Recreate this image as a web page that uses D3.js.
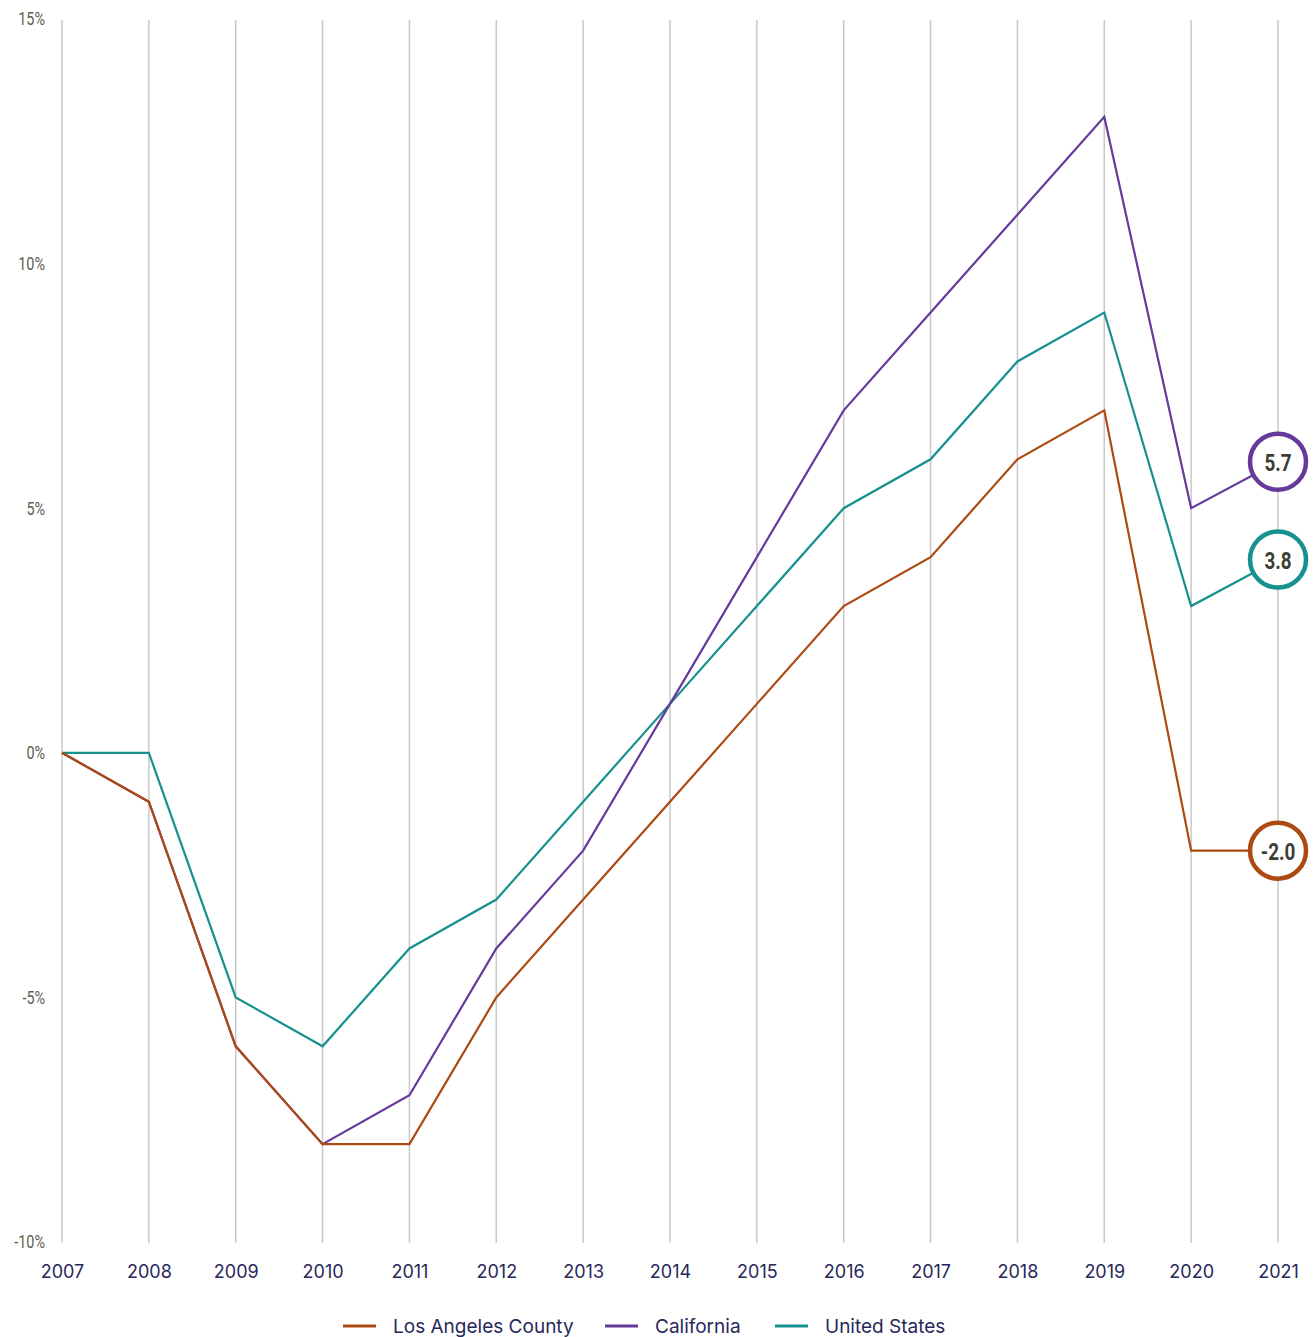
<!DOCTYPE html>
<html><head><meta charset="utf-8">
<script src="https://cdn.jsdelivr.net/npm/d3@7"></script>
<style>body{margin:0;background:#fff}svg{display:block}</style>
</head><body><svg id="c" width="1315" height="1337"></svg>
<script>
const years = [2007,2008,2009,2010,2011,2012,2013,2014,2015,2016,2017,2018,2019,2020,2021];
const laCounty = [0,-1,-6,-8,-8,-5,-3,-1,1,3,4,6,7,-2,-2];
const california = [0,-1,-6,-8,-7,-4,-2,1,4,7,9,11,13,5,5.95];
const unitedStates = [0,0,-5,-6,-4,-3,-1,1,3,5,6,8,9,3,3.95];
const endLabels = ["-2.0","5.7","3.8"];
const seriesNames = ["Los Angeles County","California","United States"];
const seriesColors = ["#ad4a12","#653a9b","#17918f"];
const yTicks = [-10,-5,0,5,10,15];

const svg = d3.select("#c");
const x = d3.scalePoint().domain(years).range([62,1278]);
const y = d3.scaleLinear().domain([-10,15]).range([1242,19]);

// vertical gridlines
svg.append("g").selectAll("line").data(years).join("line")
  .attr("x1",d=>x(d)).attr("x2",d=>x(d)).attr("y1",y(15)+1).attr("y2",y(-10)+1)
  .attr("stroke","#c9c9c9").attr("stroke-width",1.5);

// y labels (condensed)
svg.append("g").selectAll("text").data(yTicks).join("text")
  .attr("transform",d=>`translate(45,${y(d)}) scale(0.8,1)`)
  .attr("dy","0.35em").attr("text-anchor","end")
  .attr("font-family","Roboto,sans-serif").attr("font-weight",400).attr("font-size",18)
  .attr("fill","#5f604f").text(d=>d+"%");

// x labels
const xAxis = d3.axisBottom(x).tickSize(0).tickPadding(0);
const gx = svg.append("g").attr("transform","translate(0,1265)").call(xAxis);
gx.select(".domain").remove();
gx.selectAll("text").attr("font-family","Inter,'Noto Sans',sans-serif").attr("font-size",18)
  .attr("fill","#27285a").attr("dy","0.72em");

const data = [laCounty, california, unitedStates];
const line = d3.line().x((d,i)=>x(years[i])).y(d=>y(d));
const order = [2,1,0];
order.forEach(k=>{
  svg.append("path").datum(data[k]).attr("d",line).attr("fill","none")
    .attr("stroke",seriesColors[k]).attr("stroke-width",2.2).attr("stroke-linejoin","miter");
});

// end circles
data.forEach((s,k)=>{
  const cx = x(years[years.length-1]), cy = y(s[s.length-1]);
  svg.append("circle").attr("cx",cx).attr("cy",cy).attr("r",28)
    .attr("fill","#fff").attr("stroke",seriesColors[k]).attr("stroke-width",4.5);
  svg.append("text").attr("transform",`translate(${cx},${cy+1}) scale(0.82,1)`)
    .attr("dy","0.35em").attr("text-anchor","middle")
    .attr("font-family","Roboto,sans-serif").attr("font-weight","bold")
    .attr("font-size",23).attr("fill","#3c3d33").text(endLabels[k]);
});

// legend
const legX = [343,605,775];
seriesNames.forEach((n,k)=>{
  const g = svg.append("g").attr("transform",`translate(${legX[k]},1326)`);
  g.append("line").attr("x1",0).attr("x2",33).attr("y1",0).attr("y2",0)
    .attr("stroke",seriesColors[k]).attr("stroke-width",3);
  g.append("text").attr("x",50).attr("y",0).attr("dy","0.35em")
    .attr("font-family","Inter,'Noto Sans',sans-serif").attr("font-size",19)
    .attr("fill","#27285a").text(n);
});
</script></body></html>
